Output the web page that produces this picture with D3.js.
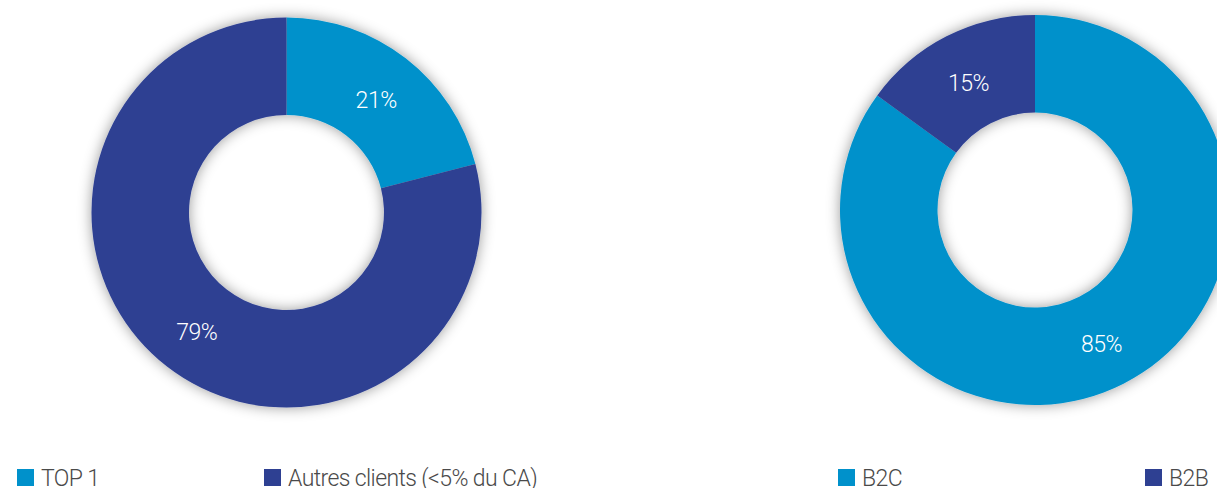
<!DOCTYPE html>
<html>
<head>
<meta charset="utf-8">
<script src="https://cdn.jsdelivr.net/npm/d3@7"></script>
<style>
    html, body { margin: 0; padding: 0; background: #fff; overflow: hidden; }
    text { font-family: Roboto, "Open Sans", sans-serif; font-weight: 300; }
</style>
</head>
<body>
<div id="grafico"></div>
<script>
// clients : concentration du CA
const clientLabels = ["TOP 1", "Autres clients (<5% du CA)"];
const clientValues = [21, 79];

// répartition B2C / B2B
const canalLabels = ["B2C", "B2B"];
const canalValues = [85, 15];

const colors = ["#0091cb", "#2e4092"];

const width  = 1217;
const height = 488;

const svg = d3.select("#grafico")
              .append("svg")
              .attr("width", width)
              .attr("height", height);

const defs = svg.append("defs");
const shadow = defs.append("filter")
                   .attr("id", "ombre")
                   .attr("x", "-20%")
                   .attr("y", "-20%")
                   .attr("width", "140%")
                   .attr("height", "140%");
shadow.append("feDropShadow")
      .attr("dx", 0)
      .attr("dy", 0)
      .attr("stdDeviation", 7)
      .attr("flood-color", "#000")
      .attr("flood-opacity", 0.4);

const outerR = 195;
const innerR = 97.5;

const arc = d3.arc()
              .innerRadius(innerR)
              .outerRadius(outerR);

const pie = d3.pie()
              .sort(null)
              .value(d => d.value);

function donut(cx, cy, labels, values) {
    const data = labels.map((l, i) => ({ label: l, value: values[i] }));
    const color = d3.scaleOrdinal()
                    .domain(labels)
                    .range(colors);

    const g = svg.append("g")
                 .attr("transform", `translate(${cx}, ${cy})`);

    g.append("g")
     .attr("filter", "url(#ombre)")
     .selectAll("path")
     .data(pie(data))
     .join("path")
     .attr("d", arc)
     .attr("fill", d => color(d.data.label));

    g.selectAll("text")
     .data(pie(data))
     .join("text")
     .attr("transform", d => `translate(${arc.centroid(d)})`)
     .attr("dy", "0.5em")
     .attr("text-anchor", "middle")
     .attr("font-size", "23px")
     .attr("letter-spacing", "-0.5px")
     .attr("fill", "#fff")
     .text(d => d.data.value + "%");
}

donut(286.5, 212.5, clientLabels, clientValues);
donut(1035, 210, canalLabels, canalValues);

// légendes
function legend(items, xs) {
    const g = svg.append("g")
                 .selectAll("g")
                 .data(items)
                 .join("g")
                 .attr("transform", (d, i) => `translate(${xs[i]}, 486)`);

    g.append("rect")
     .attr("x", 0)
     .attr("y", -17)
     .attr("width", 17)
     .attr("height", 17)
     .attr("fill", (d, i) => colors[i]);

    g.append("text")
     .attr("x", 24)
     .attr("y", 0)
     .attr("font-size", "23px")
     .attr("letter-spacing", "-0.6px")
     .attr("fill", "#4a4a4a")
     .text(d => d);
}

legend(clientLabels, [17, 264]);
legend(canalLabels, [838, 1145]);
</script>
</body>
</html>
